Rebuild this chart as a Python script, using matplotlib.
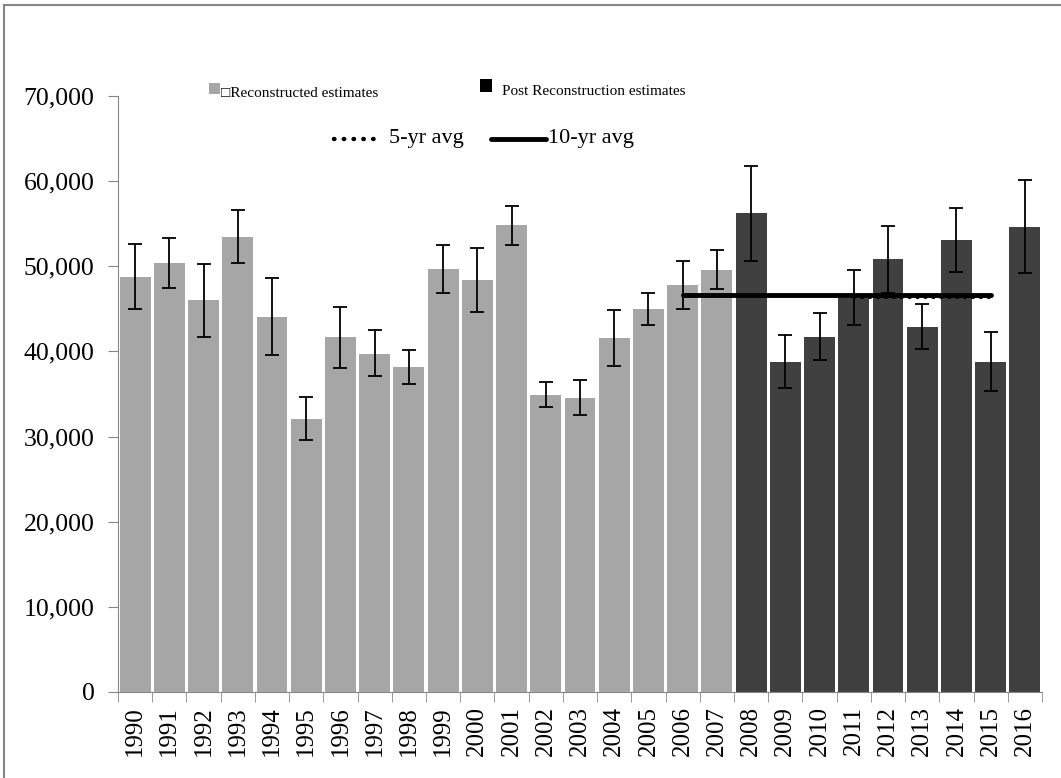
import matplotlib.pyplot as plt
from matplotlib.lines import Line2D
from matplotlib.patches import Rectangle

years = list(range(1990, 2017))
estimates = [48780, 50390, 46000, 53480, 44080, 32100, 41660, 39730, 38140, 49720,
             48350, 54810, 34880, 34530, 41540, 44950, 47760, 49600, 56220, 38720,
             41700, 46310, 50820, 42870, 53090, 38720, 54610]
err_upper = [52580, 53360, 50270, 56650, 48620, 34690, 45250, 42480, 40130, 52500,
             52150, 57080, 36370, 36640, 44870, 46830, 50620, 51950, 61810, 41890,
             44510, 49520, 54770, 45530, 56810, 42320, 60130]
err_lower = [44980, 47490, 41730, 50390, 39580, 29560, 38090, 37080, 36170, 46900,
             44600, 52500, 33510, 32530, 38290, 43100, 44950, 47370, 50660, 35740,
             39030, 43100, 46830, 40250, 49330, 35350, 49170]
first_post_year = 2008

ten_yr_years = list(range(2006, 2016))
ten_yr_avg = 46600
five_yr_years = list(range(2011, 2016))
five_yr_avg = 46400

serif = ["Liberation Serif", "DejaVu Serif"]
plt.rcParams["font.family"] = serif

light = "#a6a6a6"
dark = "#404040"
axis_grey = "#868686"

fig = plt.figure(figsize=(10.61, 7.78), dpi=100)
ax = fig.add_axes([118 / 1061, 1 - 692 / 778, 924 / 1061, 596 / 778])

x = list(range(len(years)))
colors = [light if y < first_post_year else dark for y in years]
ax.bar(x, estimates, width=0.9, color=colors, zorder=2)

lo = [v - l for v, l in zip(estimates, err_lower)]
hi = [u - v for v, u in zip(estimates, err_upper)]
ax.errorbar(x, estimates, yerr=[lo, hi], fmt="none", ecolor="black",
            elinewidth=1.3, capsize=5, capthick=1.3, zorder=4)

ten_x = [years.index(y) for y in ten_yr_years]
five_x = [years.index(y) for y in five_yr_years]
ax.plot(ten_x, [ten_yr_avg] * len(ten_x), color="black", lw=3.5,
        solid_capstyle="round", zorder=3)
ax.plot(five_x, [five_yr_avg] * len(five_x), color="black", lw=3,
        linestyle=(0, (0.1, 1.8)), dash_capstyle="round", zorder=3)

ax.set_xlim(-0.5, len(years) - 0.5)
ax.set_ylim(0, 70000)
ax.set_yticks(range(0, 70001, 10000))
ax.set_yticklabels([f"{v:,}" for v in range(0, 70001, 10000)], fontsize=18.5)
ax.set_xticks(x)
ax.set_xticklabels([str(y) for y in years], rotation=90, fontsize=18)
ax.set_xticks([i - 0.5 for i in range(len(years) + 1)], minor=True)
ax.tick_params(axis="x", which="major", length=0, pad=10)
ax.tick_params(axis="x", which="minor", length=7, color=axis_grey, direction="out")
ax.tick_params(axis="y", length=7, color=axis_grey, pad=10)
for side in ["top", "right"]:
    ax.spines[side].set_visible(False)
for side in ["left", "bottom"]:
    ax.spines[side].set_color(axis_grey)

# legend drawn by hand, as in the original
W, H = 1061, 778
def fx(px):
    return px / W
def fy(py):
    return 1 - py / H

fig.patches.append(Rectangle((fx(209), fy(94)), 11 / W, 11 / H, transform=fig.transFigure,
                             facecolor=light, edgecolor="none"))
fig.text(fx(221), fy(97), "\u25a1Reconstructed estimates", fontsize=11,
         family=["Liberation Serif", "DejaVu Sans"], va="baseline")
fig.patches.append(Rectangle((fx(480), fy(92)), 12 / W, 13 / H, transform=fig.transFigure,
                             facecolor="black", edgecolor="none"))
fig.text(fx(502), fy(95), "Post Reconstruction estimates", fontsize=11, va="baseline")

fig.add_artist(Line2D([fx(334), fx(379)], [fy(139), fy(139)], color="black", lw=3.2,
                      linestyle=(0, (0.1, 2.1)), dash_capstyle="round"))
fig.text(fx(389), fy(139), "5-yr avg", fontsize=16, va="center")
fig.add_artist(Line2D([fx(491), fx(546)], [fy(139), fy(139)], color="black", lw=3.5,
                      solid_capstyle="round"))
fig.text(fx(548), fy(139), "10-yr avg", fontsize=16, va="center")

# outer frame
fig.add_artist(Line2D([fx(4), fx(4)], [fy(5), 0], color=axis_grey, lw=1.5))
fig.add_artist(Line2D([fx(4), 1], [fy(5), fy(5)], color=axis_grey, lw=1.5))

fig.savefig("out.png", dpi=100)
